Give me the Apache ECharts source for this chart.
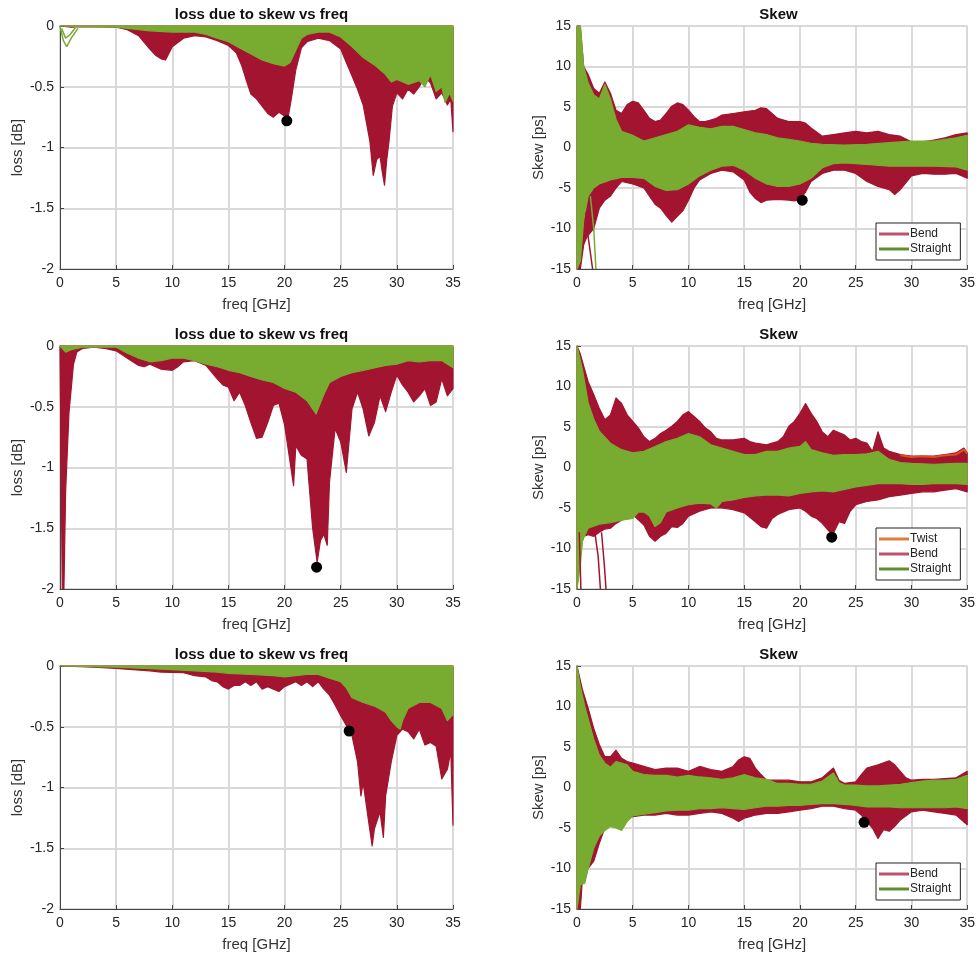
<!DOCTYPE html>
<html>
<head>
<meta charset="utf-8">
<script src="https://cdn.jsdelivr.net/npm/echarts@6/dist/echarts.min.js"></script>
<style>html,body{margin:0;padding:0;background:#fff}#c{width:978px;height:955px}</style>
</head>
<body>
<div id="c"></div>
<script>
// ---------- axis ticks ----------
const freqTicks = { min: 0, max: 35, interval: 5 };
const lossTicks = { min: -2, max: 0, interval: 0.5 };
const skewTicks = { min: -15, max: 15, interval: 5 };

// ---------- panel 1 : loss (top) ----------
const lossTop = [[0, 0], [35, 0]];
const p1RedLow = [[0,0],[1,-0.01],[2,-0.005],[5,-0.01],[6,-0.03],[7,-0.08],[8,-0.19],[8.5,-0.24],[9,-0.27],[9.4,-0.28],[10,-0.17],[11,-0.1],[12,-0.08],[13,-0.09],[14,-0.12],[15,-0.16],[15.7,-0.22],[16.2,-0.33],[16.6,-0.45],[17,-0.56],[17.5,-0.6],[18,-0.66],[18.5,-0.72],[19,-0.75],[19.5,-0.71],[20,-0.74],[20.3,-0.76],[20.6,-0.6],[21,-0.36],[21.5,-0.18],[22,-0.13],[23,-0.1],[24,-0.12],[25,-0.19],[25.5,-0.3],[26,-0.41],[26.5,-0.52],[27,-0.65],[27.3,-0.8],[27.6,-0.95],[27.9,-1.23],[28.2,-1.1],[28.5,-1.07],[28.7,-1.2],[28.9,-1.31],[29.1,-1.1],[29.3,-0.95],[29.6,-0.66],[30,-0.55],[30.5,-0.6],[31,-0.52],[31.5,-0.56],[32,-0.5],[32.5,-0.42],[33,-0.47],[33.5,-0.6],[34,-0.55],[34.5,-0.65],[34.8,-0.6],[35,-0.87]];
const p1GreenLow = [[0,0],[2,-0.005],[5,-0.01],[6,-0.02],[8,-0.04],[10,-0.05],[12,-0.05],[13,-0.07],[14,-0.1],[15,-0.13],[16,-0.18],[17,-0.23],[18,-0.28],[19,-0.31],[20,-0.33],[20.5,-0.3],[21,-0.2],[21.5,-0.1],[22,-0.07],[23,-0.05],[24,-0.05],[25,-0.09],[26,-0.17],[27,-0.26],[28,-0.32],[29,-0.4],[29.5,-0.46],[30,-0.44],[31,-0.48],[32,-0.45],[32.5,-0.5],[33,-0.4],[33.5,-0.54],[34,-0.5],[34.3,-0.63],[34.7,-0.55],[35,-0.62]];
const p1GreenLoopA = [[0,0],[0.3,-0.12],[0.6,-0.17],[1.0,-0.1],[1.6,-0.02]];
const p1GreenLoopB = [[0.15,-0.02],[0.5,-0.1],[0.9,-0.07],[1.4,-0.01]];
const p1Dot = [[20.2, -0.78]];

// ---------- panel 2 : skew (top) ----------
const p2RedHigh = [[0,15],[0.3,15],[0.6,10],[1,9],[1.5,7.3],[2,6.7],[2.5,8.1],[3,6.7],[3.5,4.6],[4,4.2],[4.5,5.3],[5,5.7],[5.5,5.5],[6,4.6],[6.5,3.6],[7,3.2],[7.5,3.4],[8,4.2],[8.5,5.1],[9,5.5],[9.5,5.3],[10,4.6],[10.5,3.8],[11,3.2],[11.5,3.2],[12,3.4],[12.5,3.6],[13,4],[14,4.2],[15,4.4],[16,4.6],[16.5,4.9],[17,4.8],[18,3.6],[19,3.2],[20,3.2],[20.5,3],[21,2.4],[22,1.4],[23,1.6],[24,1.8],[25,2],[26,1.8],[27,2],[28,1.6],[29,1.4],[30,0.7],[31,0.7],[32,0.9],[33,1.2],[34,1.6],[35,1.8]];
const p2RedLow = [[0,-15],[0.3,-15],[0.6,-12],[0.9,-11],[1.2,-10.5],[1.5,-10],[2,-7.5],[2.5,-6.5],[3,-6],[3.5,-5],[4,-4.2],[5,-4.5],[6,-5],[6.5,-6],[7,-7],[7.5,-7.5],[8,-8.4],[8.5,-9.2],[9,-8.5],[9.5,-7.8],[10,-6.5],[10.5,-5],[11,-4],[12,-3.2],[13,-2.8],[14,-3],[15,-4],[15.5,-5.5],[16,-6.3],[16.5,-6.8],[17,-6.5],[18,-6.4],[19,-6.5],[19.5,-6.6],[20,-6.4],[20.5,-5.5],[21,-4.2],[22,-3.2],[23,-2.8],[24,-2.8],[25,-3.2],[26,-4.2],[27,-4.8],[28,-5.2],[28.5,-5.8],[29,-5.2],[30,-3.5],[31,-3.2],[32,-3.3],[33,-3.3],[34,-3.2],[35,-3.8]];
const p2GreenHigh = [[0,15],[0.3,15],[0.6,10],[1,8],[1.5,6.5],[2,6],[2.5,7.8],[3,6],[3.5,3.5],[4,2],[5,1.5],[6,0.8],[7,1.2],[8,1.6],[9,2],[10,2.8],[11,2.5],[12,2.3],[13,2.6],[14,2.6],[15,2.2],[16,1.8],[17,1.6],[18,1.2],[19,1],[20,0.8],[21,0.5],[22,0.4],[24,0.3],[26,0.4],[28,0.6],[30,0.8],[32,0.8],[34,1.2],[35,1.5]];
const p2GreenLow = [[0,-15],[0.3,-14],[0.6,-9],[1,-6],[1.5,-5],[2,-4.5],[3,-4],[4,-3.7],[5,-3.7],[6,-3.8],[7,-4.8],[8,-5.3],[9,-5.2],[10,-4.5],[11,-3.5],[12,-2.8],[13,-2.3],[14,-2.2],[15,-2.8],[16,-3.8],[17,-4.5],[18,-4.8],[19,-4.8],[20,-4.5],[21,-3.8],[22,-2.5],[23,-2],[24,-1.9],[25,-2],[26,-2.1],[28,-2.3],[30,-2.3],[32,-2.3],[34,-2.4],[35,-2.8]];
const p2RedSpike = [[0.8,-8],[1.0,-11],[1.2,-13],[1.4,-15]];
const p2GreenSpike = [[1.2,-6],[1.5,-10],[1.7,-15]];
const p2Dot = [[20.2, -6.5]];

// ---------- panel 3 : loss (middle) ----------
const p3RedLow = [[0,0],[0.1,-1],[0.2,-2],[0.35,-2],[0.5,-1.2],[0.8,-0.55],[1.2,-0.15],[1.5,-0.05],[2,-0.02],[3,-0.01],[4,-0.02],[5,-0.04],[6,-0.1],[7,-0.16],[7.5,-0.17],[8,-0.15],[9,-0.19],[10,-0.2],[10.5,-0.17],[11,-0.13],[12,-0.12],[13,-0.16],[14,-0.27],[14.5,-0.32],[15,-0.34],[15.5,-0.45],[16,-0.38],[16.5,-0.49],[17,-0.63],[17.5,-0.76],[18,-0.75],[18.5,-0.63],[19,-0.49],[19.5,-0.47],[20,-0.65],[20.5,-0.96],[20.8,-1.15],[21,-0.82],[21.5,-0.9],[22,-0.93],[22.5,-1.5],[22.9,-1.78],[23.2,-1.6],[23.5,-1.55],[23.8,-1.64],[24,-1.12],[24.5,-0.68],[25,-0.79],[25.5,-1.04],[26,-0.52],[26.5,-0.38],[27,-0.52],[27.5,-0.74],[28,-0.63],[28.5,-0.41],[29,-0.54],[29.5,-0.38],[30,-0.24],[30.5,-0.32],[31,-0.38],[31.5,-0.46],[32,-0.41],[32.5,-0.35],[33,-0.49],[33.5,-0.46],[34,-0.27],[34.5,-0.41],[35,-0.35]];
const p3GreenLow = [[0,0],[0.5,-0.05],[1,-0.03],[2,-0.01],[5,-0.01],[6,-0.06],[7,-0.1],[8,-0.13],[9,-0.12],[10,-0.1],[11,-0.1],[12,-0.12],[13,-0.15],[14,-0.17],[15,-0.2],[16,-0.22],[17,-0.25],[18,-0.28],[19,-0.3],[20,-0.35],[21,-0.38],[22,-0.45],[22.8,-0.56],[23.5,-0.4],[24,-0.3],[25,-0.25],[26,-0.22],[27,-0.2],[28,-0.18],[29,-0.16],[30,-0.15],[31,-0.12],[32,-0.13],[33,-0.12],[34,-0.12],[35,-0.18]];
const p3Dot = [[22.85, -1.82]];

// ---------- panel 4 : skew (middle) ----------
const p4RedHigh = [[0,15],[0.3,14],[0.5,13],[1,10.6],[1.5,9],[2,7.3],[2.5,5.9],[3,6.5],[3.5,8.6],[4,7.9],[4.5,6.5],[5,5.7],[5.5,4.9],[6,3.8],[6.5,3.2],[7,3.6],[7.5,4.2],[8,4.6],[8.5,5.1],[9,5.7],[9.5,6.5],[10,6.9],[10.5,6.3],[11,5.7],[11.5,4.9],[12,4.4],[12.5,3.6],[13,3.4],[14,3.4],[15,3.6],[15.5,3.2],[16,3],[17,2.8],[17.5,3],[18,3.2],[18.5,3.8],[19,5.1],[19.5,5.7],[20,6.7],[20.5,7.9],[21,6.7],[21.5,5.7],[22,4.4],[22.5,3.8],[23,4.6],[24,4],[24.5,3.4],[25,3.6],[25.5,3.2],[26,3],[26.5,2],[27,4.4],[27.5,2.4],[28,2],[29,1.6],[30,1.4],[31,1.4],[32,1.4],[33,1.6],[34,1.8],[34.7,2.4],[35,1.8]];
const p4RedLow = [[0,-15],[0.3,-10],[0.6,-8.5],[1,-8.3],[1.5,-8.5],[2,-8],[2.5,-7.6],[3,-7.5],[3.5,-6.9],[4,-6.5],[5,-5.8],[6,-7.1],[6.5,-8.5],[7,-9.1],[7.5,-8.5],[8,-8.1],[8.5,-7.3],[9,-7.4],[9.5,-6.9],[10,-6],[11,-5.4],[12,-5],[13,-5],[14,-5.2],[15,-5.6],[16,-6.7],[16.5,-7.3],[17,-7.5],[17.5,-6.3],[18,-5.8],[19,-5.2],[20,-5],[20.5,-5.4],[21,-6],[21.5,-6.3],[22,-6.9],[22.5,-7.7],[22.9,-8.3],[23,-8.1],[23.5,-6.7],[24,-6.9],[24.5,-5.4],[25,-4.6],[26,-4.2],[27,-4],[28,-3.6],[29,-3.4],[30,-3.2],[31,-3],[32,-3],[33,-2.8],[34,-2.6],[35,-3]];
const p4RedSpikeA = [[0.2,-8],[0.35,-15]];
const p4RedSpikeB = [[1.6,-8],[1.9,-11],[2.1,-15]];
const p4RedSpikeC = [[2.2,-8],[2.45,-12],[2.6,-15]];
const p4GreenHigh = [[0,15],[0.5,12],[1,8],[1.5,6],[2,4.5],[3,3],[4,2.2],[5,1.8],[6,2],[7,2.6],[8,3.2],[9,3.6],[10,4.2],[11,3.8],[12,2.8],[13,2.4],[14,2],[15,1.6],[16,1.6],[17,2],[18,2],[19,2.4],[20,2.6],[20.5,3.2],[21,2.2],[22,1.8],[23,1.5],[24,1.6],[25,1.6],[26,1.7],[27,2],[28,1],[29,0.6],[30,0.5],[32,0.4],[34,0.5],[35,0.5]];
const p4GreenLow = [[0,-15],[0.3,-12],[0.5,-9],[1,-7.5],[2,-7],[3,-6.8],[4,-6.5],[5,-6.3],[5.5,-5.5],[6,-5.5],[6.5,-6],[7,-7.3],[7.5,-6.8],[8,-5.5],[9,-5],[10,-4.6],[11,-4.4],[12,-4.5],[12.5,-5],[13,-4.2],[14,-4],[15,-3.7],[16,-3.5],[17,-3.4],[18,-3.4],[19,-3.5],[20,-3.2],[21,-3],[22,-2.9],[23,-3],[24,-2.7],[25,-2.4],[26,-2.2],[27,-2],[28,-2],[29,-2],[30,-2.1],[31,-2.1],[32,-2],[33,-2],[34,-2],[35,-2.1]];
const p4Twist = [[29,1.5],[30,1.3],[31,1.4],[32,1.3],[33,1.5],[34,1.6],[34.7,2.2],[35,1.7]];
const p4Dot = [[22.85, -8.6]];

// ---------- panel 5 : loss (bottom) ----------
const p5RedLow = [[0,0],[3,-0.01],[5,-0.02],[8,-0.04],[9,-0.05],[11,-0.055],[12,-0.08],[13,-0.09],[13.5,-0.12],[14,-0.13],[14.5,-0.17],[15,-0.19],[15.5,-0.16],[16,-0.16],[16.5,-0.13],[17,-0.16],[17.5,-0.13],[18,-0.19],[18.5,-0.17],[19,-0.19],[19.5,-0.21],[20,-0.17],[20.5,-0.15],[21,-0.13],[21.5,-0.16],[22,-0.13],[22.5,-0.17],[23,-0.13],[23.5,-0.19],[24,-0.24],[24.5,-0.32],[25,-0.41],[25.5,-0.49],[26,-0.57],[26.5,-0.79],[26.8,-1.07],[27,-0.96],[27.5,-1.29],[27.8,-1.48],[28,-1.34],[28.5,-1.2],[28.8,-1.41],[29,-1.07],[29.5,-0.79],[30,-0.57],[30.5,-0.52],[31,-0.54],[31.5,-0.6],[32,-0.52],[32.5,-0.65],[33,-0.63],[33.5,-0.66],[34,-0.93],[34.5,-0.85],[34.8,-0.7],[35,-1.31]];
const p5GreenLow = [[0,0],[5,-0.01],[10,-0.03],[12,-0.04],[14,-0.05],[15,-0.06],[17,-0.07],[19,-0.08],[20,-0.09],[21,-0.08],[22,-0.07],[23,-0.07],[24,-0.1],[25,-0.13],[25.5,-0.18],[26,-0.26],[27,-0.3],[28,-0.33],[29,-0.38],[29.5,-0.45],[30,-0.5],[30.3,-0.52],[30.5,-0.45],[31,-0.35],[32,-0.3],[33,-0.3],[34,-0.35],[34.5,-0.45],[35,-0.4]];
const p5Dot = [[25.75, -0.535]];

// ---------- panel 6 : skew (bottom) ----------
const p6RedHigh = [[0,15],[0.5,12],[1,9.8],[1.5,7.3],[2,5.3],[2.5,3.8],[3,3.8],[3.5,4.6],[4,3.6],[4.5,3.2],[5,3],[6,2.6],[7,2.2],[8,2.4],[9,2.4],[10,2],[11,2.6],[12,2.2],[13,2],[14,2.6],[14.5,3.4],[15,3.8],[15.5,3.6],[16,2.4],[16.5,1.6],[17,0.9],[18,0.9],[19,0.9],[20,0.7],[21,0.7],[22,1.2],[23,2.4],[23.5,0.9],[24,0.5],[25,0.7],[25.5,1.6],[26,2.4],[27,2.8],[28,3.3],[28.5,2.8],[29,2],[29.5,1.2],[30,0.9],[31,1],[32,1],[33,1.1],[34,1.2],[35,2]];
const p6RedLow = [[0,-15],[0.3,-15],[0.5,-11],[1,-10],[1.5,-9.1],[2,-6.9],[2.5,-5],[3,-4.2],[3.5,-4],[4,-3.8],[5,-3.6],[6,-3.4],[7,-3.4],[8,-3.2],[9,-3.4],[10,-3.4],[11,-3.2],[12,-3],[13,-3.2],[14,-3.8],[14.5,-4.2],[15,-3.8],[15.5,-3.6],[16,-3.4],[17,-3.2],[18,-3.2],[19,-3],[20,-2.8],[21,-2.6],[22,-2.3],[23,-2.3],[24,-2.6],[25,-2.8],[25.5,-3.4],[26,-4.2],[26.5,-5],[27,-6.3],[27.5,-5.2],[28,-5.4],[28.5,-4.8],[29,-4],[30,-3],[31,-2.8],[32,-3],[33,-3.2],[34,-3.4],[35,-4.6]];
const p6GreenHigh = [[0,15],[0.3,12.5],[0.7,10],[1,8.5],[1.5,6],[2,4],[2.5,3],[3,2.5],[3.5,3.2],[4,3],[4.5,2.8],[5,2],[6,1.6],[7,1.5],[8,1.5],[9,1.3],[10,1.5],[11,1.3],[12,1.2],[13,1],[14,1.2],[15,1.6],[16,1.2],[17,1],[18,0.5],[19,0.5],[20,0.4],[21,0.4],[22,0.8],[23,1.8],[23.5,0.6],[24,0.3],[25,0.3],[26,0.2],[27,0.2],[28,0.3],[29,0.4],[30,0.6],[31,0.8],[32,0.9],[33,0.9],[34,1],[35,1.5]];
const p6GreenLow = [[0,-15],[0.3,-12],[0.7,-11.8],[1,-10],[1.5,-7.5],[2,-6],[2.5,-5.3],[3,-4.8],[3.5,-5],[4,-5.3],[4.5,-4.2],[5,-3.5],[6,-3.3],[7,-3.1],[8,-2.9],[9,-2.8],[10,-2.8],[11,-2.6],[12,-2.6],[13,-2.5],[14,-2.6],[15,-2.7],[16,-2.5],[17,-2.3],[18,-2.3],[19,-2.2],[20,-2.2],[21,-2.1],[22,-2],[23,-2],[24,-2.1],[25,-2.2],[26,-2.4],[27,-2.4],[28,-2.4],[29,-2.5],[30,-2.5],[31,-2.5],[32,-2.5],[33,-2.5],[34,-2.4],[35,-2.6]];
const p6Dot = [[25.75, -4.3]];

// ---------- text ----------
const lossTitle = 'loss due to skew vs freq';
const skewTitle = 'Skew';
const xName = 'freq [GHz]';
const lossName = 'loss [dB]';
const skewName = 'Skew [ps]';

// ---------- styling ----------
const RED = '#A2142F', GREEN = '#77AC30', ORANGE = '#D95319';
const FONT = 'Liberation Sans, Arial, sans-serif';
const LEFT_X = 60, RIGHT_X = 577, PW = 393, PH = 243;
const ROWS = [26, 346, 666];

const panels = [
  { left: LEFT_X, top: ROWS[0], kind: 'loss', red: [lossTop, p1RedLow], green: [lossTop, p1GreenLow], redLines: [], greenLines: [p1GreenLoopA, p1GreenLoopB], dot: p1Dot },
  { left: RIGHT_X, top: ROWS[0], kind: 'skew', red: [p2RedHigh, p2RedLow], green: [p2GreenHigh, p2GreenLow], redLines: [p2RedSpike], greenLines: [p2GreenSpike], dot: p2Dot, legend: ['Bend', 'Straight'] },
  { left: LEFT_X, top: ROWS[1], kind: 'loss', red: [lossTop, p3RedLow], green: [lossTop, p3GreenLow], redLines: [], greenLines: [], dot: p3Dot },
  { left: RIGHT_X, top: ROWS[1], kind: 'skew', red: [p4RedHigh, p4RedLow], green: [p4GreenHigh, p4GreenLow], redLines: [p4RedSpikeA, p4RedSpikeB, p4RedSpikeC], greenLines: [], twist: p4Twist, dot: p4Dot, legend: ['Twist', 'Bend', 'Straight'] },
  { left: LEFT_X, top: ROWS[2], kind: 'loss', red: [lossTop, p5RedLow], green: [lossTop, p5GreenLow], redLines: [], greenLines: [], dot: p5Dot },
  { left: RIGHT_X, top: ROWS[2], kind: 'skew', red: [p6RedHigh, p6RedLow], green: [p6GreenHigh, p6GreenLow], redLines: [], greenLines: [], dot: p6Dot, legend: ['Bend', 'Straight'] }
];

function band(name, upper, lower, color, idx) {
  return {
    type: 'custom', name: name, xAxisIndex: idx, yAxisIndex: idx,
    coordinateSystem: 'cartesian2d', silent: true,
    itemStyle: { color: color },
    data: [[0, 0]],
    encode: { x: 0, y: 1 },
    renderItem: function (params, api) {
      const pts = upper.map(p => api.coord(p)).concat(lower.slice().reverse().map(p => api.coord(p)));
      return { type: 'polygon', shape: { points: pts }, style: { fill: color, stroke: color, lineWidth: 1.2, lineJoin: 'round' } };
    }
  };
}
function line(name, data, color, idx, w) {
  return { type: 'line', name: name, xAxisIndex: idx, yAxisIndex: idx, data: data, showSymbol: false, silent: true,
    lineStyle: { color: color, width: w || 1.5 }, itemStyle: { color: color }, animation: false };
}

const option = { animation: false, textStyle: { fontFamily: FONT }, title: [], grid: [], xAxis: [], yAxis: [], series: [], legend: [] };
const legendColors = { Twist: '#E07A3E', Bend: '#C0506A', Straight: '#5E8F2E' };

panels.forEach((p, i) => {
  option.grid.push({ left: p.left, top: p.top, width: PW, height: PH, show: true, borderColor: '#7a7a7a', borderWidth: 1, containLabel: false });
  option.title.push({ text: p.kind === 'loss' ? lossTitle : skewTitle, left: p.left + PW / 2, top: p.top - 24, textAlign: 'center',
    textStyle: { fontFamily: FONT, fontSize: 15, fontWeight: 'bold', color: '#111' } });
  option.xAxis.push({ type: 'value', gridIndex: i, min: freqTicks.min, max: freqTicks.max, interval: freqTicks.interval,
    name: xName, nameLocation: 'middle', nameGap: 28, nameTextStyle: { fontFamily: FONT, fontSize: 15, color: '#333' },
    axisLine: { show: true, onZero: false, lineStyle: { color: '#444', width: 1 } },
    axisTick: { show: true, inside: true, length: 4, lineStyle: { color: '#444' } },
    axisLabel: { fontFamily: FONT, fontSize: 14, color: '#262626', margin: 7 },
    splitLine: { show: true, lineStyle: { color: '#d9d9d9', width: 2 } } });
  const t = p.kind === 'loss' ? lossTicks : skewTicks;
  option.yAxis.push({ type: 'value', gridIndex: i, min: t.min, max: t.max, interval: t.interval,
    name: p.kind === 'loss' ? lossName : skewName, nameLocation: 'middle', nameRotate: 90,
    nameGap: p.kind === 'loss' ? 35 : 31, nameTextStyle: { fontFamily: FONT, fontSize: 15, color: '#333' },
    axisLine: { show: true, onZero: false, lineStyle: { color: '#444', width: 1 } },
    axisTick: { show: true, inside: true, length: 4, lineStyle: { color: '#444' } },
    axisLabel: { fontFamily: FONT, fontSize: 14, color: '#262626', margin: 6 },
    splitLine: { show: true, lineStyle: { color: '#d9d9d9', width: 2 } } });

  option.series.push(band('Bend', p.red[0], p.red[1], RED, i));
  p.redLines.forEach(l => option.series.push(line('Bend', l, RED, i)));
  if (p.twist) option.series.push(line('Twist', p.twist, ORANGE, i, 2));
  option.series.push(band('Straight', p.green[0], p.green[1], GREEN, i));
  p.greenLines.forEach(l => option.series.push(line('Straight', l, GREEN, i)));
  option.series.push({ type: 'scatter', xAxisIndex: i, yAxisIndex: i, data: p.dot, symbol: 'circle', symbolSize: 11, silent: true,
    itemStyle: { color: '#000', opacity: 1 }, z: 10 });

  if (p.legend) {
    const n = p.legend.length;
    const h = n * 12 + (n - 1) * 3 + 10;
    option.legend.push({
      orient: 'vertical', left: p.left + PW - 94, top: p.top + PH - 9 - h,
      data: p.legend.map(nm => ({ name: nm, icon: 'rect', itemStyle: { color: legendColors[nm] } })),
      itemWidth: 30, itemHeight: 3, itemGap: 3, padding: [5, 9, 5, 3],
      borderColor: '#222', borderWidth: 1, backgroundColor: '#fff', selectedMode: false,
      textStyle: { fontFamily: FONT, fontSize: 12, color: '#222', padding: [0, 0, 0, -4] }
    });
  }
});

const chart = echarts.init(document.getElementById('c'), null, { renderer: 'canvas' });
chart.setOption(option);
</script>
</body>
</html>
